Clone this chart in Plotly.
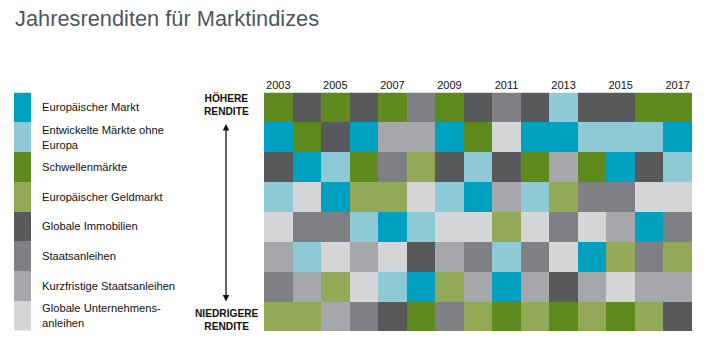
import plotly.graph_objects as go

# Asset classes (legend order, top to bottom)
categories = [
    "Europäischer Markt",
    "Entwickelte Märkte ohne<br>Europa",
    "Schwellenmärkte",
    "Europäischer Geldmarkt",
    "Globale Immobilien",
    "Staatsanleihen",
    "Kurzfristige Staatsanleihen",
    "Globale Unternehmens-<br>anleihen",
]
colors = ["#00A0C0", "#8DCAD6", "#5E8A1E", "#92AA57",
          "#58595B", "#7F8083", "#A6A7AA", "#D4D5D7"]

years = list(range(2003, 2018))
year_ticks = [2003, 2005, 2007, 2009, 2011, 2013, 2015, 2017]
ranks = list(range(1, 9))

# Codes: EM=0, DM=1, SM=2, GM=3, IM=4, SA=5, KS=6, UA=7
EM, DM, SM, GM, IM, SA, KS, UA = range(8)
# ranking per year, best (top) to worst (bottom)
ranking = {
    2003: [SM, EM, IM, DM, UA, KS, SA, GM],
    2004: [IM, SM, EM, UA, SA, DM, KS, GM],
    2005: [SM, IM, DM, EM, SA, UA, GM, KS],
    2006: [IM, EM, SM, GM, DM, KS, UA, SA],
    2007: [SM, KS, SA, GM, EM, UA, DM, IM],
    2008: [SA, KS, GM, UA, DM, IM, EM, SM],
    2009: [SM, EM, IM, DM, UA, KS, GM, SA],
    2010: [IM, SM, DM, EM, UA, SA, KS, GM],
    2011: [SA, UA, IM, KS, GM, DM, EM, SM],
    2012: [IM, EM, SM, DM, UA, SA, KS, GM],
    2013: [DM, EM, KS, GM, SA, UA, IM, SM],
    2014: [IM, DM, SM, SA, UA, EM, KS, GM],
    2015: [IM, DM, EM, SA, KS, GM, UA, SM],
    2016: [SM, DM, IM, UA, EM, SA, KS, GM],
    2017: [SM, EM, DM, UA, SA, GM, KS, IM],
}

z = [[ranking[y][r] for y in years] for r in range(8)]
text = [[categories[ranking[y][r]].replace("<br>", " ") for y in years] for r in range(8)]

n = len(colors)
cscale = []
for i, c in enumerate(colors):
    cscale.append([i / n, c])
    cscale.append([(i + 1) / n, c])

W, H = 704, 343
def px(x): return x / W
def py(y): return 1 - y / H

fig = go.Figure()
fig.add_trace(go.Heatmap(
    x=years, y=ranks, z=z, text=text, hoverinfo="text+x",
    colorscale=cscale, zmin=-0.5, zmax=n - 0.5, showscale=False,
    xaxis="x", yaxis="y",
))
# legend swatches
fig.add_trace(go.Heatmap(
    x=[0], y=ranks, z=[[i] for i in range(n)],
    colorscale=cscale, zmin=-0.5, zmax=n - 0.5, showscale=False,
    xaxis="x2", yaxis="y2", hoverinfo="skip",
))

grid_top, grid_bot = 92.5, 331
fig.update_layout(
    width=W, height=H,
    margin=dict(l=0, r=0, t=0, b=0),
    paper_bgcolor="white", plot_bgcolor="white",
    font=dict(family="Liberation Sans, Arial, sans-serif", color="#222222", size=11),
    showlegend=False,
    xaxis=dict(domain=[px(264), px(692)], side="top", tickmode="array",
               tickvals=year_ticks, ticktext=[str(t) for t in year_ticks],
               showgrid=False, zeroline=False, showline=False, ticks="",
               tickfont=dict(size=11, color="#111111"), fixedrange=True,
               range=[2002.5, 2017.5]),
    yaxis=dict(domain=[py(grid_bot), py(grid_top)], autorange="reversed",
               showticklabels=False, showgrid=False, zeroline=False, ticks="",
               fixedrange=True),
    xaxis2=dict(domain=[px(14), px(31)], showticklabels=False, showgrid=False,
                zeroline=False, anchor="y2", fixedrange=True),
    yaxis2=dict(domain=[py(grid_bot), py(grid_top)], autorange="reversed",
                showticklabels=False, showgrid=False, zeroline=False,
                anchor="x2", fixedrange=True),
)

arrow_top, arrow_bot = 124, 303
annotations = [
    dict(text="Jahresrenditen für Marktindizes", x=px(13), y=py(18),
         xref="paper", yref="paper", xanchor="left", yanchor="middle",
         showarrow=False, font=dict(size=21.8, color="#4D5760")),
    dict(text="<b>HÖHERE<br>RENDITE</b>", x=px(226), y=py(104.5),
         xref="paper", yref="paper", xanchor="center", yanchor="middle",
         showarrow=False, font=dict(size=10.2, color="#111111")),
    dict(text="<b>NIEDRIGERE<br>RENDITE</b>", x=px(227), y=py(319.5),
         xref="paper", yref="paper", xanchor="center", yanchor="middle",
         showarrow=False, font=dict(size=10.2, color="#111111")),
    dict(text="", x=px(226), y=py(arrow_top), xref="paper", yref="paper",
         ax=0, ay=arrow_bot - arrow_top, axref="pixel", ayref="pixel",
         showarrow=True, arrowhead=2, startarrowhead=2, arrowside="end+start",
         arrowsize=1, arrowwidth=1.3, arrowcolor="#111111"),
]
for i, cat in enumerate(categories):
    annotations.append(dict(
        text=cat, x=px(40), y=i + 1, xref="paper", yref="y2",
        xanchor="left", yanchor="middle", align="left", showarrow=False,
        font=dict(size=11.2, color="#111111"),
    ))
fig.update_layout(annotations=annotations)

fig.write_html("out.html")
